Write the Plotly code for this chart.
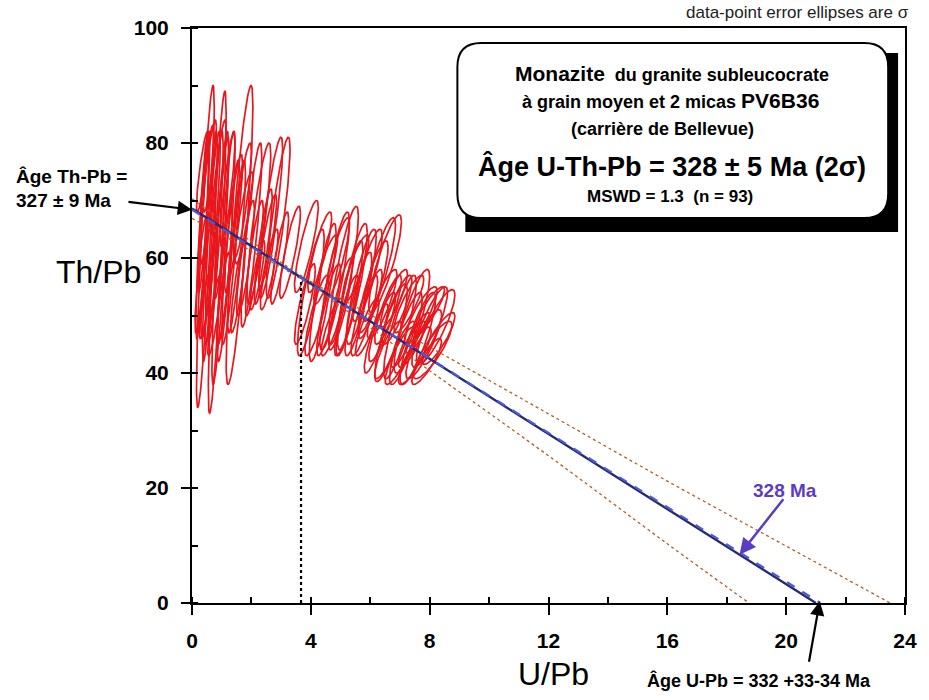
import numpy as np
import plotly.graph_objects as go

# ---------------- data ----------------
# error ellipses: centre (U/Pb, Th/Pb), half extents in x and y
ell_x = [
    # cluster A
    0.45, 0.85, 1.60, 0.95, 1.15, 0.35, 0.60, 0.55, 0.40, 0.70,
    0.80, 1.00, 1.30, 1.50, 1.40, 1.10, 0.30, 0.50, 0.65, 1.80,
    2.00, 2.25, 2.65, 2.90, 2.10, 2.40, 1.70, 1.20, 0.90, 0.60,
    3.30, 2.95, 2.60, 3.85, 0.45, 0.75, 1.05, 1.55, 2.20, 0.35,
    1.75, 2.55,
    # cluster B
    4.00, 4.40, 4.80, 5.10, 5.40, 5.70, 5.90, 6.30, 6.50, 6.10,
    5.30, 5.60, 4.60, 4.20, 3.80, 5.00, 5.80, 6.40, 6.60, 4.90,
    5.50, 4.50, 6.00, 5.20, 4.70, 5.90, 6.80, 4.30,
    # cluster C
    6.70, 7.00, 7.40, 7.20, 7.60, 8.00, 8.20, 7.80, 8.10, 7.50,
    7.00, 6.60, 6.90, 7.30, 7.70, 8.30, 7.40, 7.90, 6.40, 6.20,
    8.00, 7.60, 7.10,
]
ell_y = [
    62, 61, 64, 60, 62, 64, 62, 58, 68, 66,
    64, 67, 61, 62, 66, 57, 57, 71, 55, 60,
    64, 66, 67, 67, 60, 62, 70, 72, 74, 76,
    61, 60, 58, 62, 52, 50, 53, 55, 57, 75,
    67, 63,
    54, 54, 56, 57, 55, 55, 57, 58, 59, 55,
    53, 52, 51, 50, 52, 52, 50, 52, 51, 60,
    58, 58, 52, 50, 48, 48, 53, 61,
    47, 48, 49, 46, 46, 48, 48, 45, 44, 43,
    43, 44, 51, 52, 50, 46, 45, 42, 48, 46,
    51, 47, 45,
]
ell_sx = [
    0.30, 0.30, 0.45, 0.28, 0.30, 0.22, 0.25, 0.25, 0.20, 0.25,
    0.25, 0.25, 0.30, 0.30, 0.30, 0.25, 0.20, 0.22, 0.22, 0.30,
    0.35, 0.40, 0.40, 0.40, 0.30, 0.30, 0.30, 0.25, 0.25, 0.22,
    0.35, 0.30, 0.30, 0.40, 0.20, 0.22, 0.22, 0.25, 0.25, 0.20,
    0.30, 0.30,
    0.45, 0.45, 0.50, 0.50, 0.50, 0.50, 0.50, 0.55, 0.55, 0.50,
    0.45, 0.45, 0.40, 0.40, 0.35, 0.40, 0.45, 0.50, 0.45, 0.40,
    0.45, 0.40, 0.40, 0.40, 0.35, 0.40, 0.45, 0.40,
    0.55, 0.55, 0.60, 0.55, 0.60, 0.60, 0.65, 0.60, 0.65, 0.55,
    0.50, 0.45, 0.50, 0.50, 0.55, 0.55, 0.45, 0.50, 0.45, 0.40,
    0.50, 0.40, 0.40,
]
ell_sy = [
    28, 28, 26, 22, 20, 18, 20, 12, 14, 16,
    18, 14, 16, 15, 12, 12, 10, 12, 10, 10,
    16, 14, 14, 14, 10, 10, 10, 10, 10, 8,
    8, 8, 7, 8, 6, 7, 8, 8, 6, 7,
    8, 8,
    11, 12, 12, 12, 11, 10, 8, 9, 8.5, 8,
    10, 9, 8, 7, 7, 8, 7, 6, 6, 7,
    6, 6, 6, 7, 5, 5, 5, 7,
    8.5, 9, 9, 8, 8, 7, 6.5, 6, 5, 5,
    5, 5, 6, 5, 5, 4.5, 4, 4, 6, 6,
    4, 3.5, 4,
]
ELL_RHO = 0.86  # error correlation of the ellipses

# regression line (Th/Pb vs U/Pb) and 328 Ma reference line
fit_x = [0.0, 21.0]
fit_y = [68.6, 0.0]
ref_x = [0.0, 21.15]
ref_y = [68.4, 0.0]

# error envelope (dotted curves)
env_up_x = [0, 2, 3.65, 5, 8, 12, 16, 20, 23.5]
env_up_y = [70.3, 62.9, 57.0, 53.0, 44.5, 32.9, 21.2, 9.9, 0.0]
env_lo_x = [0, 2, 3.65, 5, 8, 12, 16, 18.75]
env_lo_y = [66.9, 61.2, 56.4, 51.6, 40.4, 25.6, 10.3, 0.0]

# centroid marker (vertical dotted line)
cen_x = [3.67, 3.67]
cen_y = [0.0, 56.3]

x_ticks = [0, 4, 8, 12, 16, 20, 24]
y_ticks = [0, 20, 40, 60, 80, 100]

# ---------------- figure ----------------
W, H = 929, 700
L, R, T, B = 192, 17, 28, 97
PW, PH = W - L - R, H - T - B


def px(xp, yp):
    """pixel position -> paper coordinates"""
    return (xp - L) / PW, (H - B - yp) / PH


fig = go.Figure()

# ellipses, all in one trace separated by gaps
t = np.linspace(0, 2 * np.pi, 97)
ex, ey = [], []
for cx, cy, sx, sy in zip(ell_x, ell_y, ell_sx, ell_sy):
    xs = cx + sx * np.cos(t)
    ys = cy + sy * (ELL_RHO * np.cos(t) + np.sqrt(1 - ELL_RHO ** 2) * np.sin(t))
    ex.extend(xs.tolist() + [None])
    ey.extend(ys.tolist() + [None])
fig.add_trace(go.Scatter(x=ex, y=ey, mode="lines",
                         line=dict(color="#e8161c", width=1.7),
                         hoverinfo="skip", showlegend=False))

env_col = "#b0602a"
fig.add_trace(go.Scatter(x=env_up_x, y=env_up_y, mode="lines",
                         line=dict(color=env_col, width=1.3, dash="dot", shape="spline"),
                         showlegend=False))
fig.add_trace(go.Scatter(x=env_lo_x, y=env_lo_y, mode="lines",
                         line=dict(color=env_col, width=1.3, dash="dot", shape="spline"),
                         showlegend=False))
fig.add_trace(go.Scatter(x=fit_x, y=fit_y, mode="lines",
                         line=dict(color="#262a70", width=2.4),
                         showlegend=False))
fig.add_trace(go.Scatter(x=ref_x, y=ref_y, mode="lines",
                         line=dict(color="#4d5ad8", width=2.2, dash="dash"),
                         showlegend=False))
fig.add_trace(go.Scatter(x=cen_x, y=cen_y, mode="lines",
                         line=dict(color="black", width=2.2, dash="dot"),
                         showlegend=False))

tickfont = dict(family="Arial", size=21, color="black", weight="bold")
fig.update_xaxes(range=[0, 24], tickvals=x_ticks, showgrid=False, zeroline=False,
                 showline=True, linecolor="black", linewidth=2, mirror=True,
                 ticks="outside", ticklen=10, tickwidth=2, tickcolor="black",
                 tickfont=tickfont, ticklabelstandoff=8,
                 minor=dict(dtick=2, ticks="inside", ticklen=6, tickwidth=1.5,
                            tickcolor="black", showgrid=False))
fig.update_yaxes(range=[0, 100], tickvals=y_ticks, showgrid=False, zeroline=False,
                 showline=True, linecolor="black", linewidth=2, mirror=True,
                 ticks="outside", ticklen=9, tickwidth=2, tickcolor="black",
                 tickfont=tickfont, ticklabelstandoff=8,
                 minor=dict(dtick=10, ticks="inside", ticklen=6, tickwidth=1.5,
                            tickcolor="black", showgrid=False))

# --- info box (shadow + rounded white box) ---
shapes = []
sx0, sy0 = px(468, 232)
sx1, sy1 = px(905, 53)
shapes.append(dict(type="rect", xref="paper", yref="paper", x0=sx0, y0=sy0, x1=sx1, y1=sy1,
                   fillcolor="black", line=dict(width=0), layer="above"))
bx0, by0 = px(460, 218)
bx1, by1 = px(895, 43)
rx, ry = 24 / PW, 24 / PH
path = (f"M {bx0+rx},{by1} L {bx1-rx},{by1} Q {bx1},{by1} {bx1},{by1-ry} "
        f"L {bx1},{by0+ry} Q {bx1},{by0} {bx1-rx},{by0} "
        f"L {bx0+rx},{by0} Q {bx0},{by0} {bx0},{by0+ry} "
        f"L {bx0},{by1-ry} Q {bx0},{by1} {bx0+rx},{by1} Z")
shapes.append(dict(type="path", xref="paper", yref="paper", path=path,
                   fillcolor="white", line=dict(color="black", width=2), layer="above"))
fig.update_layout(shapes=shapes)

ann = []


def text(xp, yp, s, size, bold=True, color="black", xanchor="center", family="Arial"):
    x, y = px(xp, yp)
    ann.append(dict(xref="paper", yref="paper", x=x, y=y, text=s, showarrow=False,
                    xanchor=xanchor, yanchor="middle",
                    font=dict(family=family, size=size, color=color,
                              weight="bold" if bold else "normal")))


text(677, 73, "<span style='font-size:21px'>Monazite</span>  du granite subleucocrate", 18)
text(675, 101, "à grain moyen et 2 micas <span style='font-size:21px'>PV6B36</span>", 18)
text(667, 129, "(carrière de Bellevue)", 18)
text(677, 166, "Âge U-Th-Pb = 328 ± 5 Ma (2σ)", 27)
text(675, 196, "MSWD = 1.3  (n = 93)", 17)

text(918, 12, "data-point error ellipses are σ", 17, bold=False, color="#222222",
     xanchor="right")

text(12, 176, "Âge Th-Pb =", 19, xanchor="left")
text(12, 200, "327 ± 9 Ma", 19, xanchor="left")

text(98, 272, "Th/Pb", 32, bold=False)
text(557, 674, "U/Pb", 32, bold=False)

text(765, 680, "Âge U-Pb = 332 +33-34 Ma", 18)
text(791, 490, "328 Ma", 19, color="#5b3cc4")

# arrows
ann.append(dict(x=0.0, y=68.4, xref="x", yref="y", ax=-65, ay=-8, axref="pixel",
                ayref="pixel", text="", showarrow=True, arrowhead=2, arrowsize=1.3,
                arrowwidth=2.2, arrowcolor="black"))
ann.append(dict(x=21.13, y=0.3, xref="x", yref="y", ax=-11, ay=62, text="", showarrow=True,
                arrowhead=2, arrowsize=1.3, arrowwidth=2.2, arrowcolor="black"))
ann.append(dict(x=18.43, y=8.4, xref="x", yref="y", ax=45, ay=-57, text="", showarrow=True,
                arrowhead=2, arrowsize=1.3, arrowwidth=2.5, arrowcolor="#5b3cc4"))

fig.update_layout(annotations=ann, width=W, height=H, autosize=False,
                  margin=dict(l=L, r=R, t=T, b=B),
                  paper_bgcolor="white", plot_bgcolor="white", showlegend=False)

fig.write_html("out.html")
